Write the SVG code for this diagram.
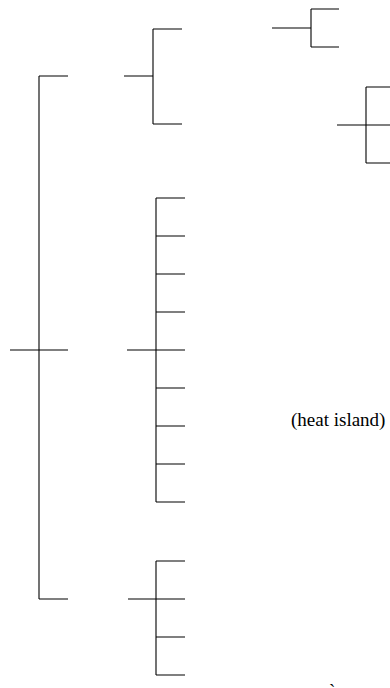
<svg xmlns="http://www.w3.org/2000/svg" width="390" height="688" viewBox="0 0 390 688">
<style>
.br{fill:none;stroke:#000;stroke-width:1.1;}
.lbl{font-family:"Liberation Serif","Times New Roman",serif;font-size:19px;fill:#000;}
</style>
<rect width="390" height="688" fill="#fff"/>
<g id="connectors">
  <path class="br" d="M39,76V599M39,76H68M39,599H68M10,350H68"/>
</g>
<g id="node-top">
  <path class="br" d="M153,29V124M153,29H182M153,124H182M124,76H153"/>
</g>
<g id="node-middle">
  <path class="br" d="M156,198V502M127,350H156M156,198H185M156,236H185M156,274H185M156,312H185M156,350H185M156,388H185M156,426H185M156,464H185M156,502H185"/>
</g>
<g id="node-bottom">
  <path class="br" d="M156,561V675M128,599H156M156,561H185M156,599H185M156,637H185M156,675H185"/>
</g>
<g id="node-topright">
  <path class="br" d="M311,9V47M311,9H339M311,47H339M272,28H311"/>
</g>
<g id="node-right">
  <path class="br" d="M366,87V163M366,87H390M366,163H390M337,125H390"/>
</g>
<g id="label-heat-island">
  <text class="lbl" x="291" y="426">(heat island)</text>
</g>
<g id="label-bottom">
  <text class="lbl" x="329" y="697" font-size="12">`</text>
</g>
</svg>
